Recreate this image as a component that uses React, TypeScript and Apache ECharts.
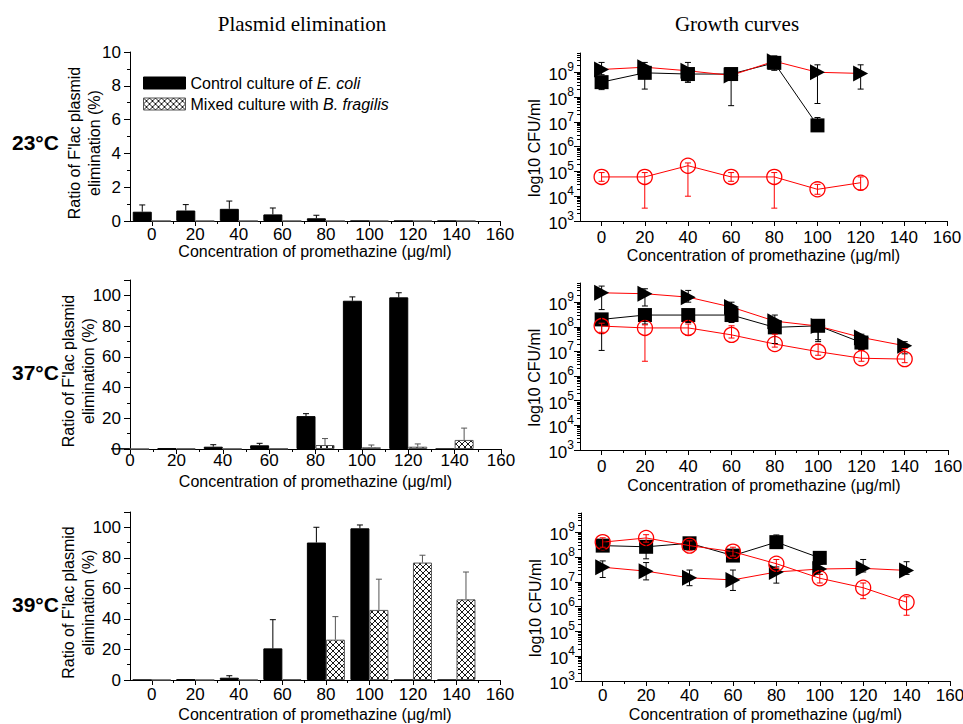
import React, { useEffect, useRef } from 'react';
import * as echarts from 'echarts';

// ---------- data ----------
const conc = [0, 20, 40, 60, 80, 100, 120, 140];

// Plasmid elimination (%) — value and upper error
const p23Control = [0.55, 0.62, 0.72, 0.39, 0.16, 0, 0, 0];
const p23ControlErr = [0.4, 0.35, 0.46, 0.38, 0.18, 0, 0, 0];
const p23Mixed = [0, 0, 0, 0, 0, 0, 0, 0];
const p23MixedErr = [0, 0, 0, 0, 0, 0, 0, 0];

const p37Control = [0.2, 0.4, 1.5, 2.4, 21.4, 96.5, 98.7, 0];
const p37ControlErr = [0, 0, 1.3, 1.3, 1.6, 2.5, 3.0, 0];
const p37Mixed = [0, 0.2, 0.1, 0.2, 2.6, 1.1, 1.5, 5.9];
const p37MixedErr = [0, 0, 0, 0, 4.2, 1.5, 1.8, 7.7];

const p39Control = [0, 0.3, 1.5, 20.7, 90, 99.3, 0, 0];
const p39ControlErr = [0, 0, 1.3, 18.8, 10, 2.2, 0, 0];
const p39Mixed = [0, 0, 0, 0.4, 26.4, 45.9, 76.9, 52.8];
const p39MixedErr = [0, 0, 0, 0, 15.1, 20.1, 4.8, 17.9];

// Growth curves (CFU/ml): value, lower and upper error limits
const g23Square = [4e8, 9.5e8, 8.5e8, 8.5e8, 2.4e9, 7.2e6, null, null];
const g23SquareLow = [2e8, 2.1e8, 4e8, 5e8, 1.5e9, 5e6, null, null];
const g23SquareHigh = [6e8, 1.5e9, 1.3e9, 1.1e9, 4.5e9, 1.5e7, null, null];
const g23Tri = [1.3e9, 1.6e9, 1.15e9, 7.5e8, 2.8e9, 1e9, 9e8, null];
const g23TriLow = [8e8, 1e9, 4e8, 4.5e7, 1.2e9, 5.5e7, 2.1e8, null];
const g23TriHigh = [2.5e9, 2.5e9, 2.5e9, 1.1e9, 4.5e9, 2e9, 2e9, null];
const g23Circle = [6e4, 6e4, 1.7e5, 6e4, 6e4, 1.9e4, 3.5e4, null];
const g23CircleLow = [4e4, 3.3e3, 1e4, 4e4, 3.3e3, 1.2e4, 1.8e4, null];
const g23CircleHigh = [9e4, 9e4, 2.2e5, 9e4, 9e4, 3e4, 6e4, null];

const g37Square = [2e8, 3e8, 3e8, 3e8, 9.5e7, 1.1e8, 2.3e7, null];
const g37SquareLow = [1.1e7, 1.3e8, 1.5e8, 1.5e8, 2.1e7, 2.5e7, 1.2e7, null];
const g37SquareHigh = [3e8, 5e8, 5e8, 5e8, 1.6e8, 1.6e8, 4e7, null];
const g37Tri = [2.4e9, 2.2e9, 1.6e9, 6.3e8, 1.7e8, 1.07e8, 3.7e7, 1.7e7];
const g37TriLow = [5e8, 7e8, 1e9, 4e8, 8e7, 3e7, 1.2e7, 8e6];
const g37TriHigh = [4.5e9, 3.5e9, 3e9, 1e9, 3e8, 1.5e8, 5e7, 2.5e7];
const g37Circle = [1.07e8, 9e7, 9e7, 4.7e7, 2e7, 9.8e6, 5.3e6, 4.9e6];
const g37CircleLow = [6e7, 4e6, 4.5e7, 3.5e7, 1.5e7, 7e6, 4e6, 3.5e6];
const g37CircleHigh = [1.4e8, 1.2e8, 1.3e8, 1.1e8, 5e7, 2e7, 1.1e7, 1.3e7];

const g39Square = [2.9e8, 2.6e8, 3.6e8, 1.15e8, 4e8, 9.3e7, null, null];
const g39SquareLow = [2e8, 8.5e7, 2e8, 8e7, 2.5e8, 6e7, null, null];
const g39SquareHigh = [4e8, 4e8, 5e8, 1.6e8, 7.8e8, 1.2e8, null, null];
const g39Tri = [3.9e7, 2.7e7, 1.45e7, 1.2e7, 2.5e7, 3.3e7, 3.5e7, 2.9e7];
const g39TriLow = [1.5e7, 1.2e7, 7e6, 4.5e6, 8.9e6, 2e7, 2.5e7, 2e7];
const g39TriHigh = [7e7, 6e7, 3e7, 3e7, 4e7, 5e7, 8e7, 6.5e7];
const g39Circle = [4e8, 5.9e8, 2.9e8, 1.65e8, 5.4e7, 1.4e7, 5.8e6, 1.5e6];
const g39CircleLow = [2.5e8, 4e8, 1.8e8, 1.1e8, 3.5e7, 9e6, 2.1e6, 4.5e5];
const g39CircleHigh = [6e8, 8e8, 4.5e8, 2.5e8, 8e7, 2e7, 9e6, 2.5e6];

const xTickLabels = [0, 20, 40, 60, 80, 100, 120, 140, 160];
const xMinorTicks = [-10, 10, 30, 50, 70, 90, 110, 130, 150];

const CONTROL = 'Control culture of E. coli';
const MIXED = 'Mixed culture with B. fragilis';
const SQUARE = 'E. coli (control)';
const TRI = 'E. coli (mixed)';
const CIRCLE = 'B. fragilis (mixed)';

const FONT = "'Liberation Sans', Arial, Helvetica, sans-serif";
const SERIF = "'Liberation Serif', 'Times New Roman', serif";
const XNAME = 'Concentration of promethazine (\u03bcg/ml)';
const YNAME_BAR = "Ratio of F'lac plasmid\nelimination (%)";
const YNAME_LOG = 'log10 CFU/ml';
const LOG_MIN = 1000;
const LOG_MAX = 6e9;

function makeHatch() {
  const c = document.createElement('canvas');
  c.width = 6;
  c.height = 6;
  const ctx = c.getContext('2d')!;
  ctx.fillStyle = '#fff';
  ctx.fillRect(0, 0, 6, 6);
  ctx.strokeStyle = '#000';
  ctx.lineWidth = 0.9;
  ctx.beginPath();
  ctx.moveTo(0, 0);
  ctx.lineTo(6, 6);
  ctx.moveTo(6, 0);
  ctx.lineTo(0, 6);
  ctx.stroke();
  return c;
}

export default function App() {
  const ref = useRef<HTMLDivElement>(null);

  useEffect(() => {
    if (!ref.current) return;
    const chart = echarts.init(ref.current, null, { renderer: 'svg' });
    const hatch = { image: makeHatch(), repeat: 'repeat', imageWidth: 6, imageHeight: 6 };

    const grids = [
      { left: 130, top: 52, width: 370, height: 169 },
      { left: 580, top: 53, width: 367, height: 168 },
      { left: 130, top: 280, width: 371, height: 169 },
      { left: 580, top: 283, width: 368, height: 167 },
      { left: 130, top: 512, width: 370, height: 168 },
      { left: 581, top: 513, width: 369, height: 168 },
    ];
    const xMins = [-10, -10, 0, -10, -10, -10];
    const labelMargins = [5, 8, 3, 8, 6, 6];
    const xNameGaps = [19, 26, 24, 27, 26, 25];

    const logMinor: number[] = [];
    for (let n = 3; n <= 9; n++) {
      for (let k = 2; k <= 9; k++) {
        const v = k * Math.pow(10, n);
        if (v <= LOG_MAX) logMinor.push(Math.log10(v));
      }
    }

    const xAxis: any[] = [];
    const yAxis: any[] = [];
    grids.forEach((g, i) => {
      const xMin = xMins[i];
      xAxis.push({
        type: 'value',
        gridIndex: i,
        position: 'bottom',
        min: xMin,
        max: 160,
        axisLine: { show: true, onZero: false, lineStyle: { color: '#000', width: 1 } },
        axisTick: { show: true, length: 5, customValues: xTickLabels, lineStyle: { color: '#000' } },
        axisLabel: {
          customValues: xTickLabels,
          margin: labelMargins[i],
          fontSize: 17,
          fontFamily: FONT,
          color: '#000',
        },
        splitLine: { show: false },
        name: XNAME,
        nameLocation: 'middle',
        nameGap: xNameGaps[i],
        nameTextStyle: { fontSize: 16, fontFamily: FONT, color: '#000' },
      });
      xAxis.push({
        type: 'value',
        gridIndex: i,
        position: 'bottom',
        min: xMin,
        max: 160,
        axisLine: { show: false, onZero: false },
        axisTick: {
          show: true,
          length: 3,
          customValues: xMinorTicks.filter((v) => v > xMin),
          lineStyle: { color: '#000' },
        },
        axisLabel: { show: false },
        splitLine: { show: false },
      });
      const isBar = i % 2 === 0;
      if (isBar) {
        const big = i > 0;
        yAxis.push({
          type: 'value',
          gridIndex: i,
          position: 'left',
          min: 0,
          max: big ? 110 : 10,
          interval: big ? 20 : 2,
          axisLine: { show: true, onZero: false, lineStyle: { color: '#000', width: 1 } },
          axisTick: { show: true, length: 6, lineStyle: { color: '#000' } },
          minorTick: { show: true, splitNumber: 2, length: 3, lineStyle: { color: '#000' } },
          axisLabel: { margin: 9, fontSize: 17, fontFamily: FONT, color: '#000', showMaxLabel: !big },
          splitLine: { show: false },
          name: YNAME_BAR,
          nameLocation: 'middle',
          nameMoveOverlap: false,
          nameGap: big ? 32 : 26,
          nameTextStyle: {
            fontSize: 16,
            lineHeight: 20,
            fontFamily: FONT,
            color: '#000',
            padding: [0, 13, 0, 0],
          },
        });
        yAxis.push({
          type: 'value',
          gridIndex: i,
          position: 'left',
          show: false,
          min: 0,
          max: big ? 110 : 10,
        });
      } else {
        yAxis.push({
          type: 'log',
          logBase: 10,
          gridIndex: i,
          position: 'left',
          min: LOG_MIN,
          max: LOG_MAX,
          axisLine: { show: true, onZero: false, lineStyle: { color: '#000', width: 1 } },
          axisTick: { show: true, length: 6, lineStyle: { color: '#000' } },
          axisLabel: {
            margin: 6,
            showMaxLabel: false,
            color: '#000',
            formatter: (v: number) => {
              const l = Math.log10(v);
              const e = Math.round(l);
              if (Math.abs(l - e) > 0.01) return '';
              return '{b|10}{s|' + e + '}';
            },
            rich: {
              b: { fontSize: 17, fontFamily: FONT, color: '#000', lineHeight: 22, verticalAlign: 'bottom' },
              s: { fontSize: 12, fontFamily: FONT, color: '#000', lineHeight: 22, verticalAlign: 'top' },
            },
          },
          splitLine: { show: false },
          name: YNAME_LOG,
          nameLocation: 'middle',
          nameMoveOverlap: false,
          nameGap: 36,
          nameTextStyle: {
            fontSize: 16,
            lineHeight: 20,
            fontFamily: FONT,
            color: '#000',
            padding: [0, 22, 0, 0],
          },
        });
        yAxis.push({
          type: 'value',
          gridIndex: i,
          position: 'left',
          min: 3,
          max: Math.log10(LOG_MAX),
          axisLine: { show: false, onZero: false },
          axisTick: { show: true, length: 3, customValues: logMinor, lineStyle: { color: '#000' } },
          axisLabel: { show: false },
          splitLine: { show: false },
        });
      }
    });

    const series: any[] = [];

    const barErr = (ax: number, vals: number[], errs: number[], offset: number, color: string) => ({
      type: 'custom',
      xAxisIndex: ax,
      yAxisIndex: ax,
      z: 5,
      encode: { x: 0, y: 1 },
      data: conc.map((x, j) => [x, vals[j], errs[j]]),
      renderItem: (params: any, api: any) => {
        const e = api.value(2);
        if (!e) return null;
        const x = api.value(0);
        const v = api.value(1);
        const p0 = api.coord([x, v]);
        const p1 = api.coord([x, v + e]);
        const cx = p0[0] + offset;
        const style = { stroke: color, lineWidth: 1 };
        return {
          type: 'group',
          children: [
            { type: 'line', shape: { x1: cx, y1: p0[1], x2: cx, y2: p1[1] }, style },
            { type: 'line', shape: { x1: cx - 3, y1: p1[1], x2: cx + 3, y2: p1[1] }, style },
          ],
        };
      },
    });

    const addBarPanel = (ax: number, c: number[], ce: number[], m: number[], me: number[]) => {
      series.push({
        type: 'bar',
        name: CONTROL,
        xAxisIndex: ax,
        yAxisIndex: ax,
        barWidth: 19,
        barGap: '0%',
        data: conc.map((x, j) => [x, c[j]]),
        itemStyle: { color: '#000', borderColor: '#000', borderWidth: 1 },
      });
      series.push({
        type: 'bar',
        name: MIXED,
        xAxisIndex: ax,
        yAxisIndex: ax,
        barWidth: 19,
        barGap: '0%',
        data: conc.map((x, j) => [x, m[j]]),
        itemStyle: { color: hatch, borderColor: '#555', borderWidth: 1 },
      });
      series.push(barErr(ax, c, ce, -9.5, '#000'));
      series.push(barErr(ax, m, me, 9.5, '#555'));
    };

    const pts = (vals: (number | null)[]) =>
      conc.map((x, j) => [x, vals[j]]).filter((p) => p[1] != null);

    const growthErr = (ax: number, low: (number | null)[], high: (number | null)[], color: string) => ({
      type: 'custom',
      xAxisIndex: ax,
      yAxisIndex: ax,
      z: 5,
      encode: { x: 0, y: [1, 2] },
      data: conc.map((x, j) => [x, low[j], high[j]]).filter((p) => p[1] != null),
      renderItem: (params: any, api: any) => {
        const x = api.value(0);
        const pl = api.coord([x, api.value(1)]);
        const ph = api.coord([x, api.value(2)]);
        const style = { stroke: color, lineWidth: 1 };
        return {
          type: 'group',
          children: [
            { type: 'line', shape: { x1: pl[0], y1: pl[1], x2: ph[0], y2: ph[1] }, style },
            { type: 'line', shape: { x1: pl[0] - 3, y1: pl[1], x2: pl[0] + 3, y2: pl[1] }, style },
            { type: 'line', shape: { x1: ph[0] - 3, y1: ph[1], x2: ph[0] + 3, y2: ph[1] }, style },
          ],
        };
      },
    });

    const addGrowthPanel = (
      ax: number,
      sq: any[], sqL: any[], sqH: any[],
      tr: any[], trL: any[], trH: any[],
      ci: any[], ciL: any[], ciH: any[]
    ) => {
      series.push({
        type: 'line',
        name: SQUARE,
        xAxisIndex: ax,
        yAxisIndex: ax,
        data: pts(sq),
        symbol: 'rect',
        symbolSize: 14,
        itemStyle: { color: '#000' },
        lineStyle: { color: '#000', width: 1 },
        z: 3,
      });
      series.push({
        type: 'line',
        name: TRI,
        xAxisIndex: ax,
        yAxisIndex: ax,
        data: pts(tr),
        symbol: 'path://M0,0L10,6L0,12Z',
        symbolSize: [15, 16],
        symbolKeepAspect: false,
        itemStyle: { color: '#000' },
        lineStyle: { color: '#f00', width: 1 },
        z: 3,
      });
      series.push({
        type: 'line',
        name: CIRCLE,
        xAxisIndex: ax,
        yAxisIndex: ax,
        data: pts(ci),
        symbol: 'circle',
        symbolSize: 15,
        itemStyle: { color: 'rgba(255,255,255,0)', borderColor: '#f00', borderWidth: 1.3 },
        lineStyle: { color: '#f00', width: 1 },
        z: 4,
      });
      series.push(growthErr(ax, sqL, sqH, '#000'));
      series.push(growthErr(ax, trL, trH, '#000'));
      series.push(growthErr(ax, ciL, ciH, '#f00'));
    };

    addBarPanel(0, p23Control, p23ControlErr, p23Mixed, p23MixedErr);
    addBarPanel(4, p37Control, p37ControlErr, p37Mixed, p37MixedErr);
    addBarPanel(8, p39Control, p39ControlErr, p39Mixed, p39MixedErr);
    addGrowthPanel(2, g23Square, g23SquareLow, g23SquareHigh, g23Tri, g23TriLow, g23TriHigh, g23Circle, g23CircleLow, g23CircleHigh);
    addGrowthPanel(6, g37Square, g37SquareLow, g37SquareHigh, g37Tri, g37TriLow, g37TriHigh, g37Circle, g37CircleLow, g37CircleHigh);
    addGrowthPanel(10, g39Square, g39SquareLow, g39SquareHigh, g39Tri, g39TriLow, g39TriHigh, g39Circle, g39CircleLow, g39CircleHigh);

    const tempLabel = (text: string, y: number) => ({
      type: 'text',
      x: 12,
      y,
      style: {
        text,
        font: `bold 21px ${FONT}`,
        fill: '#000',
        textAlign: 'left',
        textVerticalAlign: 'middle',
      },
    });

    chart.setOption({
      animation: false,
      backgroundColor: '#fff',
      grid: grids.map((g) => ({ ...g, containLabel: false, outerBoundsMode: 'none' })),
      xAxis,
      yAxis,
      legend: {
        data: [CONTROL, MIXED],
        left: 138,
        top: 70,
        orient: 'vertical',
        itemWidth: 42,
        itemHeight: 12,
        itemGap: 5,
        icon: 'rect',
        selectedMode: false,
        itemStyle: { borderWidth: 1 },
        formatter: (n: string) =>
          n === CONTROL ? '{a|Control culture of }{b|E. coli}' : '{a|Mixed culture with }{b|B. fragilis}',
        textStyle: {
          rich: {
            a: { fontSize: 16, fontFamily: FONT, color: '#000', lineHeight: 18 },
            b: { fontSize: 16, fontFamily: FONT, fontStyle: 'italic', color: '#000', lineHeight: 18 },
          },
        },
      },
      graphic: [
        {
          type: 'text',
          x: 302,
          y: 24,
          style: { text: 'Plasmid elimination', font: `21px ${SERIF}`, fill: '#000', textAlign: 'center', textVerticalAlign: 'middle' },
        },
        {
          type: 'text',
          x: 737,
          y: 24,
          style: { text: 'Growth curves', font: `21px ${SERIF}`, fill: '#000', textAlign: 'center', textVerticalAlign: 'middle' },
        },
        tempLabel('23\u00b0C', 142),
        tempLabel('37\u00b0C', 372),
        tempLabel('39\u00b0C', 604),
      ],
      series,
    });

    return () => chart.dispose();
  }, []);

  return (
    <div
      ref={ref}
      style={{ position: 'absolute', left: 0, top: 0, width: 963, height: 724, background: '#fff' }}
    />
  );
}
